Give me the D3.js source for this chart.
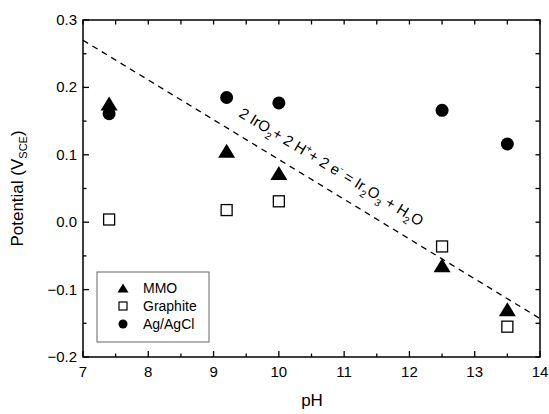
<!DOCTYPE html>
<html><head><meta charset="utf-8">
<script src="https://cdn.jsdelivr.net/npm/d3@7"></script>
<style>body{margin:0;background:#fff}svg{display:block;font-family:"Liberation Sans",Arial,sans-serif}</style>
</head><body><svg id="c" width="549" height="414"></svg>
<script>
const pH = [7.4, 9.2, 10, 12.5, 13.5];
const mmo = [0.176, 0.106, 0.073, -0.064, -0.129];
const graphite = [0.004, 0.018, 0.031, -0.036, -0.155];
const agcl = [0.161, 0.185, 0.177, 0.166, 0.116];
const lineX = [7, 14];
const lineY = [0.27, -0.143];
const xTicks = [7, 8, 9, 10, 11, 12, 13, 14];
const yTicks = [-0.2, -0.1, 0.0, 0.1, 0.2, 0.3];

const svg = d3.select("#c");
const m = {l: 83, r: 540, t: 20, b: 357};
const x = d3.scaleLinear().domain([7, 14]).range([m.l, m.r]);
const y = d3.scaleLinear().domain([-0.2, 0.3]).range([m.b, m.t]);

// frame
svg.append("rect").attr("x", m.l).attr("y", m.t).attr("width", m.r - m.l).attr("height", m.b - m.t)
  .attr("fill", "none").attr("stroke", "#000").attr("stroke-width", 1.5);

// ticks
const xMinor = d3.range(7.5, 14, 1);
const yMinor = d3.range(-0.15, 0.3, 0.1);
const g = svg.append("g").attr("stroke", "#000").attr("stroke-width", 1.3);
xTicks.forEach(v => { g.append("line").attr("x1", x(v)).attr("x2", x(v)).attr("y1", m.b).attr("y2", m.b - 6); });
xMinor.forEach(v => { g.append("line").attr("x1", x(v)).attr("x2", x(v)).attr("y1", m.b).attr("y2", m.b - 3.5); });
xTicks.concat(xMinor).forEach(v => { g.append("line").attr("x1", x(v)).attr("x2", x(v)).attr("y1", m.t).attr("y2", m.t + 4.5); });
yTicks.forEach(v => { g.append("line").attr("x1", m.l).attr("x2", m.l + 6).attr("y1", y(v)).attr("y2", y(v)); });
yMinor.forEach(v => { g.append("line").attr("x1", m.l).attr("x2", m.l + 3.5).attr("y1", y(v)).attr("y2", y(v)); });
yTicks.concat(yMinor).forEach(v => { g.append("line").attr("x1", m.r).attr("x2", m.r - 4.5).attr("y1", y(v)).attr("y2", y(v)); });

// tick labels
svg.selectAll(".xl").data(xTicks).enter().append("text").attr("x", d => x(d)).attr("y", m.b + 20)
  .attr("text-anchor", "middle").attr("font-size", 15).text(d => d);
svg.selectAll(".yl").data(yTicks).enter().append("text").attr("x", m.l - 6).attr("y", d => y(d) + 5)
  .attr("text-anchor", "end").attr("font-size", 15).text(d => d3.format(".1f")(d));

// axis titles
svg.append("text").attr("x", 312).attr("y", 406).attr("text-anchor", "middle").attr("font-size", 17).text("pH");
const yt = svg.append("text").attr("transform", "translate(23," + ((m.t + m.b) / 2) + ") rotate(-90)")
  .attr("text-anchor", "middle").attr("font-size", 17);
yt.append("tspan").text("Potential (V");
yt.append("tspan").attr("font-size", 11).attr("dy", 4).text("SCE");
yt.append("tspan").attr("dy", -4).text(")");

// dashed line
svg.append("line").attr("x1", x(lineX[0])).attr("y1", y(lineY[0])).attr("x2", x(lineX[1])).attr("y2", y(lineY[1]))
  .attr("stroke", "#000").attr("stroke-width", 1.3).attr("stroke-dasharray", "6,5");

// annotation
const ang = Math.atan2(y(lineY[1]) - y(lineY[0]), x(lineX[1]) - x(lineX[0])) * 180 / Math.PI;
const at = svg.append("text").attr("transform", "translate(238,116) rotate(" + ang + ")").attr("font-size", 15);
const parts = [["2 IrO", 0], ["2", 1], ["+ 2 H", 0], ["+", -1], ["+ 2 e", 0], ["-", -1], [" = Ir", 0], ["2", 1], ["O", 0], ["3", 1], [" + H", 0], ["2", 1], ["O", 0]];
let prev = 0;
parts.forEach(([t, s]) => {
  const off = s === 1 ? 5 : (s === -1 ? -6 : 0);
  at.append("tspan").attr("dy", off - prev).attr("font-size", s ? 10 : 15).text(t);
  prev = off;
});

// markers
const triPath = (w, h) => `M0,${-h/2}L${w/2},${h/2}L${-w/2},${h/2}Z`;
svg.selectAll(".mmo").data(pH).enter().append("path")
  .attr("transform", (d, i) => `translate(${x(d)},${y(mmo[i])})`).attr("d", triPath(17, 14)).attr("fill", "#000");
svg.selectAll(".gr").data(pH).enter().append("rect")
  .attr("x", d => x(d) - 5.5).attr("y", (d, i) => y(graphite[i]) - 5.5).attr("width", 11).attr("height", 11)
  .attr("fill", "#fff").attr("stroke", "#000").attr("stroke-width", 1.3);
svg.selectAll(".ag").data(pH).enter().append("circle")
  .attr("cx", d => x(d)).attr("cy", (d, i) => y(agcl[i])).attr("r", 6.5).attr("fill", "#000");

// legend
svg.append("rect").attr("x", 97).attr("y", 272).attr("width", 112).attr("height", 70)
  .attr("fill", "#fff").attr("stroke", "#666").attr("stroke-width", 1);
const names = ["MMO", "Graphite", "Ag/AgCl"];
names.forEach((n, i) => {
  const cy = 288 + i * 18;
  if (i === 0) svg.append("path").attr("transform", `translate(123,${cy})`).attr("d", triPath(11, 9)).attr("fill", "#000");
  if (i === 1) svg.append("rect").attr("x", 119).attr("y", cy - 4).attr("width", 8).attr("height", 8).attr("fill", "#fff").attr("stroke", "#000").attr("stroke-width", 1.2);
  if (i === 2) svg.append("circle").attr("cx", 123).attr("cy", cy).attr("r", 4.5).attr("fill", "#000");
  svg.append("text").attr("x", 143).attr("y", cy + 5).attr("font-size", 14).text(n);
});
</script></body></html>
